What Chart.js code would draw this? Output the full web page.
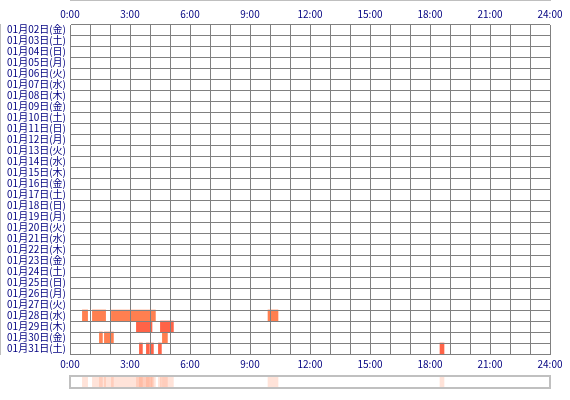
<!DOCTYPE html>
<html>
<head>
<meta charset="utf-8">
<script src="https://cdn.jsdelivr.net/npm/chart.js@4"></script>
<style>
  body { margin: 0; background: #fff; }
  #wrap { position: relative; width: 570px; height: 400px; }
  #mainChart { position: absolute; left: 0; top: 0; }
  #stripChart { position: absolute; left: 0; top: 370px; }
</style>
</head>
<body>
<div id="wrap">
  <canvas id="mainChart" width="570" height="370"></canvas>
  <canvas id="stripChart" width="570" height="24"></canvas>
</div>
<script>
const days = [
  '01月02日(金)', '01月03日(土)', '01月04日(日)', '01月05日(月)', '01月06日(火)',
  '01月07日(水)', '01月08日(木)', '01月09日(金)', '01月10日(土)', '01月11日(日)',
  '01月12日(月)', '01月13日(火)', '01月14日(水)', '01月15日(木)', '01月16日(金)',
  '01月17日(土)', '01月18日(日)', '01月19日(月)', '01月20日(火)', '01月21日(水)',
  '01月22日(木)', '01月23日(金)', '01月24日(土)', '01月25日(日)', '01月26日(月)',
  '01月27日(火)', '01月28日(水)', '01月29日(木)', '01月30日(金)', '01月31日(土)'
];

// active time ranges in hours, per day
const day28 = [[0.62, 0.88], [1.12, 1.78], [2.07, 4.27], [9.9, 10.4]];
const day29 = [[3.32, 4.1], [4.52, 5.17]];
const day30 = [[1.47, 1.62], [1.72, 2.17], [4.62, 4.87]];
const day31 = [[3.47, 3.62], [3.82, 3.97], [4.04, 4.17], [4.42, 4.57], [18.5, 18.7]];

const hourTicks = [0, 3, 6, 9, 12, 15, 18, 21, 24];

const labelColor = '#000080';
const gridColor = '#808080';
const font = { family: '"Noto Sans CJK JP", "DejaVu Sans", sans-serif', size: 10 };

function toBars(day, ranges) {
  return ranges.map(r => ({ x: r, y: day }));
}

const sessions = [
  { day: '01月28日(水)', ranges: day28, color: '#ff7f50' },
  { day: '01月29日(木)', ranges: day29, color: '#ff6347' },
  { day: '01月30日(金)', ranges: day30, color: '#ff7f50' },
  { day: '01月31日(土)', ranges: day31, color: '#ff6347' },
];

const hourLabel = function (v) {
  return hourTicks.includes(v) ? v + ':00' : '';
};

new Chart(document.getElementById('mainChart'), {
  type: 'bar',
  data: {
    labels: days,
    datasets: sessions.map(s => ({
      data: toBars(s.day, s.ranges),
      backgroundColor: s.color,
      borderWidth: 0,
      barPercentage: 1,
      categoryPercentage: 1,
      grouped: false,
      xAxisID: 'x',
    })),
  },
  options: {
    indexAxis: 'y',
    responsive: false,
    devicePixelRatio: 1,
    animation: false,
    layout: { padding: { top: 0, right: 20, bottom: 0, left: 0 } },
    plugins: { legend: { display: false }, tooltip: { enabled: false } },
    scales: {
      x: {
        type: 'linear',
        position: 'top',
        min: 0,
        max: 24,
        afterFit: s => { s.height = 24; },
        grid: { color: gridColor, lineWidth: 1, drawTicks: false, z: 1 },
        border: { color: gridColor },
        ticks: { stepSize: 1, autoSkip: false, maxRotation: 0, padding: 4, color: labelColor, font: font, callback: hourLabel },
      },
      x2: {
        type: 'linear',
        position: 'bottom',
        min: 0,
        max: 24,
        afterFit: s => { s.height = 16; },
        grid: { display: false, drawTicks: false },
        border: { color: gridColor },
        ticks: { stepSize: 1, autoSkip: false, maxRotation: 0, padding: 4, color: labelColor, font: font, callback: hourLabel },
      },
      y: {
        type: 'category',
        afterFit: s => { s.width = 70; },
        grid: { color: gridColor, lineWidth: 1, drawTicks: false, z: 1 },
        border: { color: gridColor },
        ticks: { autoSkip: false, padding: 4, color: labelColor, font: font },
      },
    },
  },
});

// summary strip: every range of every day drawn faintly on one row
const allRanges = [].concat(day28, day29, day30, day31);

const stripBorder = {
  id: 'stripBorder',
  afterDraw(chart) {
    const a = chart.chartArea;
    const c = chart.ctx;
    c.save();
    c.strokeStyle = '#c0c0c0';
    c.lineWidth = 2;
    c.strokeRect(a.left, a.top, a.right - a.left, a.bottom - a.top);
    c.restore();
  }
};

new Chart(document.getElementById('stripChart'), {
  type: 'bar',
  data: {
    labels: ['all'],
    datasets: allRanges.map(r => ({
      data: [{ x: r, y: 'all' }],
      backgroundColor: 'rgba(255, 127, 80, 0.22)',
      borderWidth: 0,
      barPercentage: 1,
      categoryPercentage: 1,
      grouped: false,
    })),
  },
  options: {
    indexAxis: 'y',
    responsive: false,
    devicePixelRatio: 1,
    animation: false,
    layout: { padding: { top: 6, right: 20, bottom: 6, left: 70 } },
    plugins: { legend: { display: false }, tooltip: { enabled: false } },
    scales: {
      x: { type: 'linear', min: 0, max: 24, display: false },
      y: { type: 'category', display: false },
    },
  },
  plugins: [stripBorder],
});
</script>
</body>
</html>
